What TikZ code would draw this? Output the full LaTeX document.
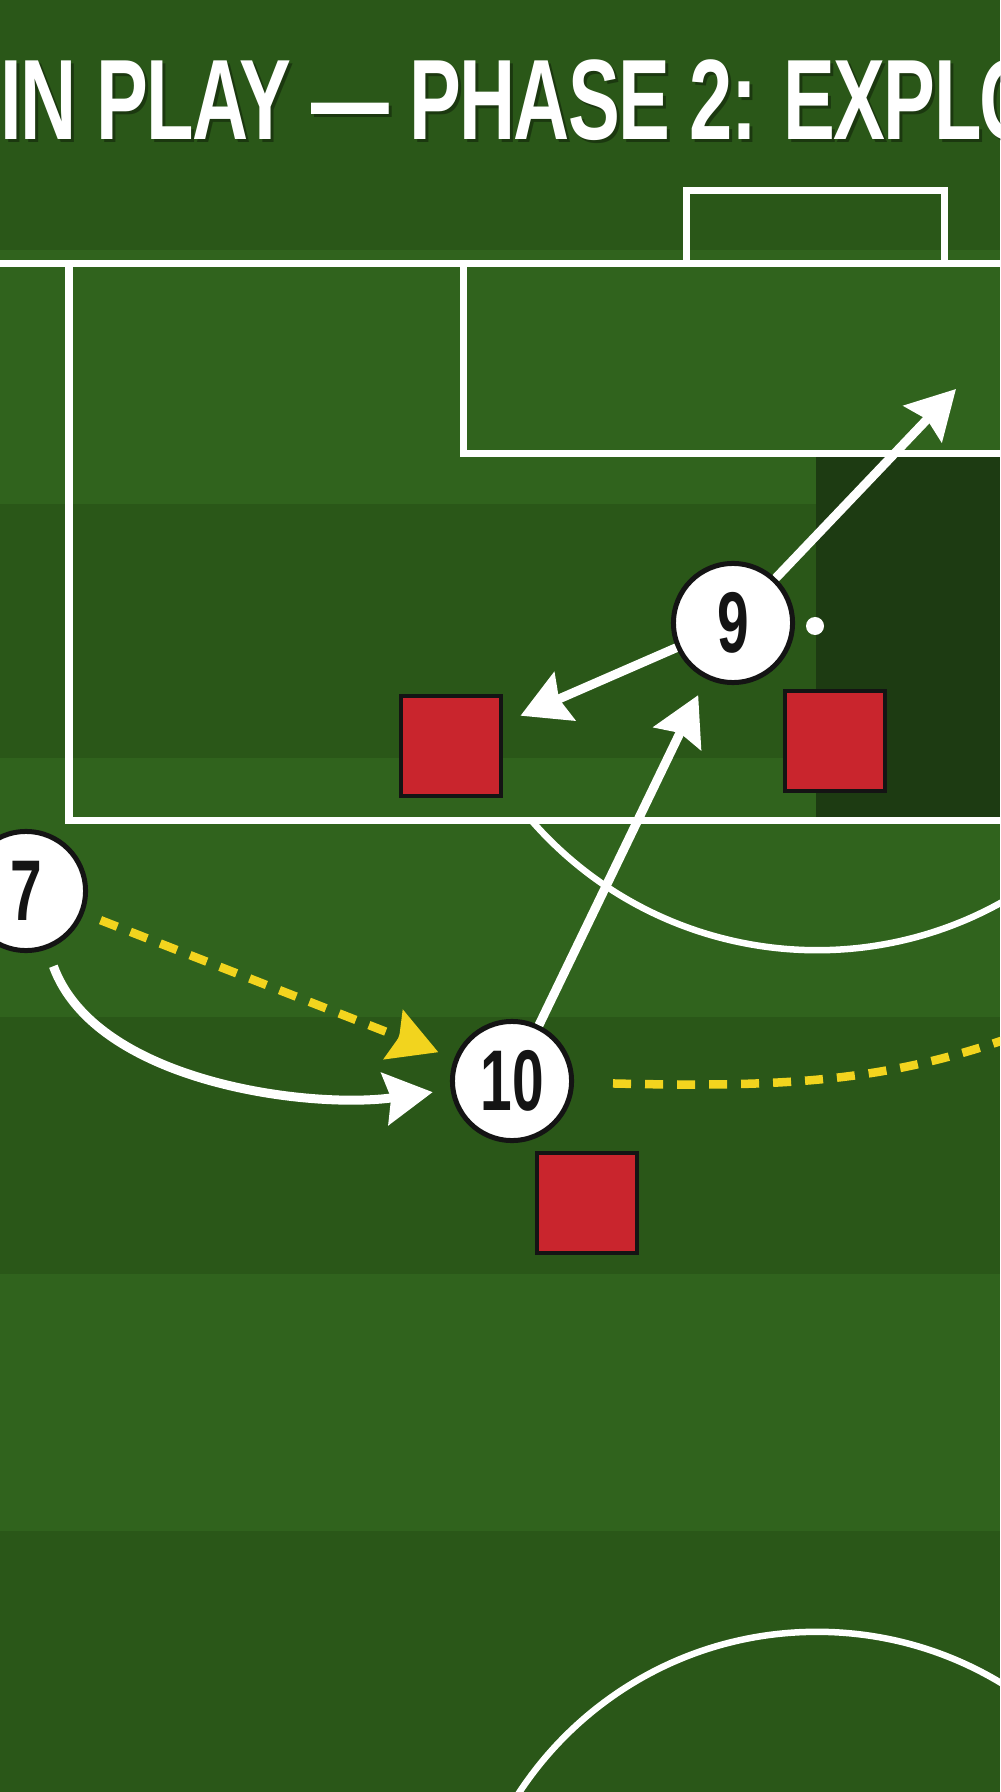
\documentclass[tikz,border=0pt]{standalone}
\usepackage{fontspec}
\newfontfamily\condfont[FakeStretch=0.68,LetterSpace=-1.5]{Liberation Sans Bold}
\newfontfamily\numfont[FakeStretch=0.66]{Liberation Sans Bold}
\usetikzlibrary{arrows.meta}
\definecolor{grassA}{HTML}{2A5718}
\definecolor{grassB}{HTML}{30631D}
\definecolor{shadebox}{HTML}{1D3B12}
\definecolor{dred}{HTML}{C9252D}
\definecolor{ylw}{HTML}{F2D41E}
\definecolor{ink}{HTML}{141414}
\begin{document}
\begin{tikzpicture}[x=0.01cm,y=0.01cm,
  pline/.style={white, line width=0.07cm},
  arcline/.style={white, line width=0.065cm},
  player/.style={circle, fill=white, draw=ink, line width=0.05cm, minimum size=1.19cm, inner sep=0pt,
    font=\numfont\fontsize{24.5}{24.5}\selectfont, text=ink},
  defender/.style={rectangle, fill=dred, draw=ink, line width=0.04cm, minimum size=1.0cm, inner sep=0pt},
  tipw/.tip={Stealth[length=0.48cm, width=0.52cm, inset=0.06cm]},
  runarrow/.style={white, line width=0.09cm, -tipw},
  passline/.style={ylw, line width=0.085cm, dash pattern=on 0.18cm off 0.14cm},
  titletext/.style={anchor=base west, inner sep=0pt, font=\condfont\fontsize{32.5}{34}\selectfont},
]
\useasboundingbox (0,0) rectangle (1000,-1792);
\clip (0,0) rectangle (1000,-1792);
% grass bands
\fill[grassA] (0,0) rectangle (1000,-1792);
\fill[grassB] (0,-250) rectangle (1000,-504);
\fill[grassB] (0,-758) rectangle (1000,-1017);
\fill[grassB] (0,-1274) rectangle (1000,-1531);
% shaded zone
\fill[shadebox] (816,-455) rectangle (1000,-820);
% pitch markings
\draw[pline] (686,-264) -- (686,-191) -- (944,-191) -- (944,-264);
\draw[pline] (-10,-264) -- (1010,-264);
\draw[pline] (69,-264) -- (69,-820) -- (1010,-820);
\draw[pline] (463,-264) -- (463,-454) -- (1010,-454);
\fill[white] (815,-626) circle[radius=0.09cm];
\draw[arcline] (817,-571) ++(221.1:3.79cm) arc[start angle=221.1, end angle=310, radius=3.79cm];
\draw[arcline] (817,-1988) circle[radius=3.56cm];
% title
\node[titletext, text=black, opacity=0.35] at (3,-143) {IN PLAY — PHASE 2: EXPLO};
\node[titletext, text=white] (title) at (0,-140) {IN PLAY — PHASE 2: EXPLO};
% players and defenders
\node[defender] (dA) at (451,-746) {};
\node[defender] (dB) at (835,-741) {};
\node[defender] (dC) at (587,-1203) {};
\node[player] (p9) at (733,-623) {9};
\node[player] (p7) at (26,-891) {7};
\node[player] (p10) at (512,-1081) {10};
\coordinate (tNE) at (956,-389);
\coordinate (rEnd) at (1040,-1027);
% movements
\draw[runarrow] (p9) -- (tNE);
\draw[runarrow, shorten >=0.19cm] (p9) -- (dA);
\draw[runarrow, shorten >=0.18cm] (p10) -- (p9);
\draw[runarrow, shorten <=0.18cm, shorten >=0.18cm] (p7) to[out=-70, in=188, looseness=0.85] (p10);
\draw[passline, -tipw, shorten <=0.18cm, shorten >=0.17cm] (p7) -- (p10);
\draw[passline, shorten <=0.39cm] (p10) .. controls (800,-1088) and (900,-1080) .. (rEnd);
\end{tikzpicture}
\end{document}
